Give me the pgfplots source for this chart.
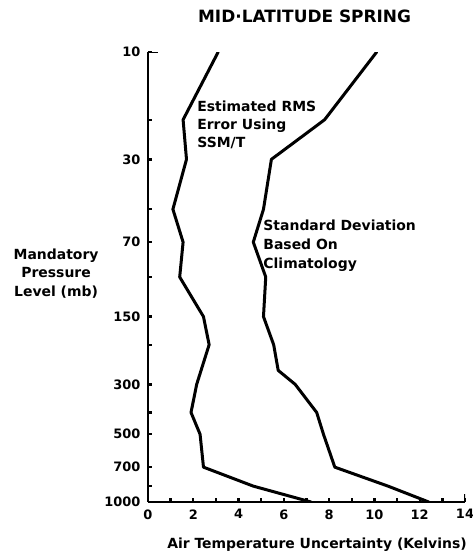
\documentclass[border=0pt]{standalone}
\usepackage{fontspec}
\setmainfont{DejaVu Sans}
\usepackage{pgfplots}
\pgfplotsset{compat=1.18}

% values: pressure (mb) and uncertainty (K)
\pgfplotstableread{
p     rms
10    3.1
20    1.55
30    1.7
50    1.1
70    1.55
100   1.4
150   2.45
200   2.7
300   2.15
400   1.9
500   2.3
700   2.45
850   4.65
1000  7.2
}\rmsdata
\pgfplotstableread{
p     sd
10    10.1
20    7.8
30    5.45
50    5.1
70    4.65
100   5.2
150   5.1
200   5.55
260   5.75
300   6.5
400   7.45
500   7.75
700   8.25
850   10.6
1000  12.4
}\sddata

\begin{document}
\begin{tikzpicture}
\begin{axis}[
    name=ax,
    scale only axis,
    width=317bp, height=450bp,
    xmin=0, xmax=14,
    ymode=log, ymin=10, ymax=1000,
    y dir=reverse,
    axis x line*=bottom,
    axis y line*=left,
    every outer x axis line/.append style={line width=2.8bp},
    every outer y axis line/.append style={line width=2.8bp},
    x axis line style={line width=2.8bp},
    y axis line style={line width=2.8bp},
    xtick align=inside, ytick align=inside,
    major tick length=4.5bp, minor tick length=4.5bp,
    every tick/.style={line width=2.4bp, black},
    xtick={0,2,...,14},
    xticklabels={0,2,4,6,8,10,12,14},
    minor xtick={1,3,...,13},
    ytick={10,30,70,150,300,500,700,1000},
    yticklabels={10,30,70,150,300,500,700,1000},
    minor ytick={20,50,100,200,400,850},
    /pgf/number format/assume math mode=true,
    ticklabel style={font=\bfseries\fontsize{13}{13}\selectfont},
    xticklabel style={yshift=-4bp},
    yticklabel style={xshift=-4bp},
    title={MID·LATITUDE SPRING},
    title style={font=\bfseries\fontsize{17}{17}\selectfont,
        at={(axis description cs:0.494,1.067)}, anchor=center},
    xlabel={Air Temperature Uncertainty (Kelvins)},
    xlabel style={font=\bfseries\fontsize{14}{14}\selectfont,
        at={(axis description cs:0.533,-0.0956)}, anchor=center},
    ylabel={Mandatory\\Pressure\\Level (mb)},
    ylabel style={font=\bfseries\fontsize{14}{18.5}\selectfont, rotate=-90,
        align=center, at={(axis description cs:-0.29,0.508)}, anchor=center},
]
\addplot[black, line width=3bp, line join=round, line cap=round]
    table[x=rms, y=p] {\rmsdata};
\addplot[black, line width=3bp, line join=round, line cap=round]
    table[x=sd, y=p] {\sddata};

% end caps of the axis lines
\draw[line width=2.8bp] (axis cs:0,10) -- (axis cs:0.45,10);
\draw[line width=2.8bp] (axis cs:14,1000) -- (axis cs:14,920);

\node[anchor=north west, inner sep=0pt, align=left,
      font=\bfseries\fontsize{14}{18}\selectfont]
    at (axis cs:2.17,16.5) {Estimated RMS\\Error Using\\SSM/T};
\node[anchor=north west, inner sep=0pt, align=left,
      font=\bfseries\fontsize{14}{19}\selectfont]
    at (axis cs:5.09,55.8) {Standard Deviation\\Based On\\Climatology};
\end{axis}
\pgfresetboundingbox
\path ([xshift=-148bp,yshift=-51bp]ax.south west)
    rectangle ([xshift=325bp,yshift=502bp]ax.south west);
\end{tikzpicture}
\end{document}
